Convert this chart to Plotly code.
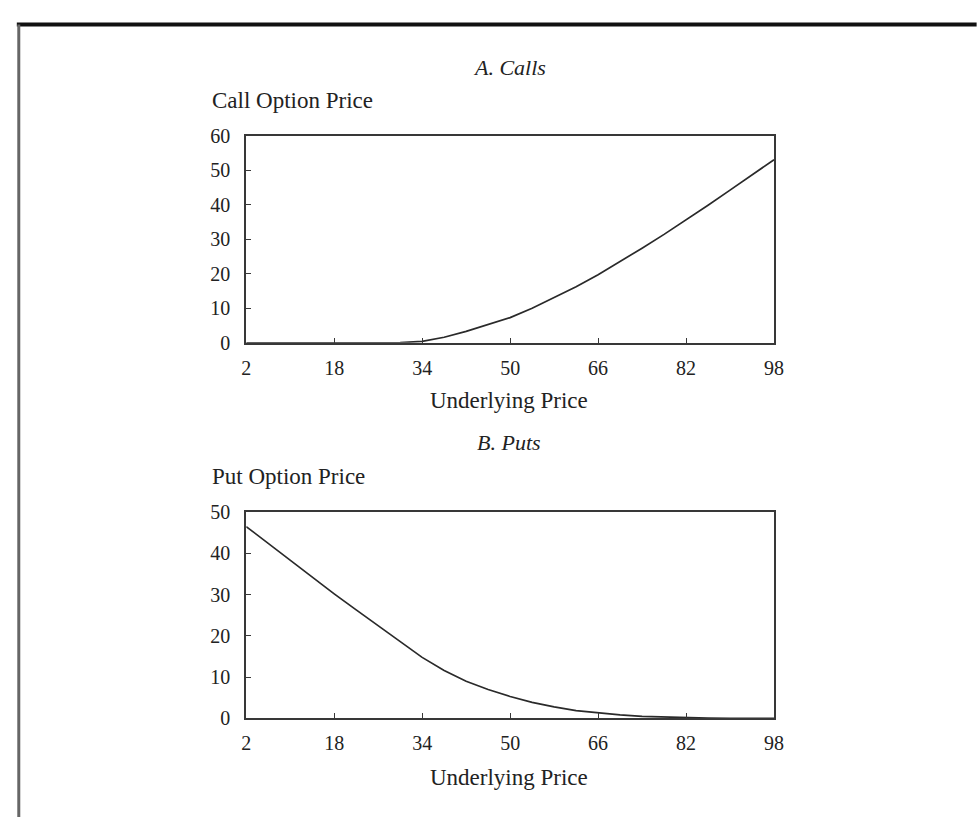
import plotly.graph_objects as go

# ---- data ----
underlying = [2, 6, 10, 14, 18, 22, 26, 30, 34, 38, 42, 46, 50,
              54, 58, 62, 66, 70, 74, 78, 82, 86, 90, 94, 98]
call_price = [0, 0, 0, 0, 0, 0, 0, 0.05, 0.4, 1.6, 3.3, 5.3, 7.3,
              10.0, 13.0, 16.2, 19.7, 23.5, 27.4, 31.4, 35.5, 39.8, 44.2, 48.6, 53.0]
put_price = [46.5, 42.4, 38.3, 34.2, 30.2, 26.3, 22.4, 18.5, 14.8, 11.6, 9.0, 7.0, 5.3,
             3.9, 2.8, 1.9, 1.3, 0.85, 0.5, 0.3, 0.15, 0.08, 0.04, 0.02, 0.01]
x_ticks = [2, 18, 34, 50, 66, 82, 98]
call_y_ticks = [0, 10, 20, 30, 40, 50, 60]
put_y_ticks = [0, 10, 20, 30, 40, 50]

W, H = 977, 817
FONT = "Liberation Serif"
INK = "#383838"

def px_x(v):
    return v / W

def px_y(v):
    return 1 - v / H

fig = go.Figure()
fig.add_trace(go.Scatter(x=underlying, y=call_price, mode="lines",
                         line=dict(color="#2a2a2a", width=1.7),
                         xaxis="x", yaxis="y", showlegend=False))
fig.add_trace(go.Scatter(x=underlying, y=put_price, mode="lines",
                         line=dict(color="#2a2a2a", width=1.7),
                         xaxis="x2", yaxis="y2", showlegend=False))

xdom = [px_x(245), px_x(781)]
common_x = dict(range=[2, 98], tickvals=x_ticks, ticks="inside", ticklen=5,
                tickcolor=INK, showline=True, linecolor=INK, linewidth=2,
                mirror=True, showgrid=False, zeroline=False,
                tickfont=dict(family=FONT, size=20, color="#222"),
                ticklabelstandoff=6, domain=xdom)
common_y = dict(ticks="inside", ticklen=5, tickcolor=INK, showline=True,
                linecolor=INK, linewidth=2, mirror=True, showgrid=False,
                zeroline=False, tickfont=dict(family=FONT, size=20, color="#222"),
                ticklabelstandoff=10)

fig.update_layout(
    width=W, height=H,
    margin=dict(l=0, r=0, t=0, b=0),
    paper_bgcolor="white", plot_bgcolor="white",
    xaxis=dict(**common_x, anchor="y"),
    yaxis=dict(**common_y, range=[0, 60], tickvals=call_y_ticks,
               domain=[px_y(341), px_y(128)], anchor="x"),
    xaxis2=dict(**common_x, anchor="y2"),
    yaxis2=dict(**common_y, range=[0, 50], tickvals=put_y_ticks,
                domain=[px_y(727), px_y(515)], anchor="x2"),
)

def note(text, x, y, size=21, italic=False, xanchor="center"):
    if italic:
        text = "<i>" + text + "</i>"
    fig.add_annotation(text=text, x=px_x(x), y=px_y(y), xref="paper", yref="paper",
                       xanchor=xanchor, yanchor="middle", showarrow=False,
                       font=dict(family=FONT, size=size, color="#222"))

note("A. Calls", 512, 58, size=22, italic=True)
note("Call Option Price", 208, 92, size=23, xanchor="left")
note("Underlying Price", 512, 400, size=23)
note("B. Puts", 512, 443, size=22, italic=True)
note("Put Option Price", 208, 478, size=23, xanchor="left")
note("Underlying Price", 512, 788, size=23)

# page frame lines
fig.add_shape(type="line", xref="paper", yref="paper",
              x0=px_x(12), x1=1.01, y0=px_y(14), y1=px_y(14),
              line=dict(color="#111111", width=4))
fig.add_shape(type="line", xref="paper", yref="paper",
              x0=px_x(14), x1=px_x(14), y0=px_y(14), y1=-0.02,
              line=dict(color="#666666", width=3))

fig.write_html("out.html")
